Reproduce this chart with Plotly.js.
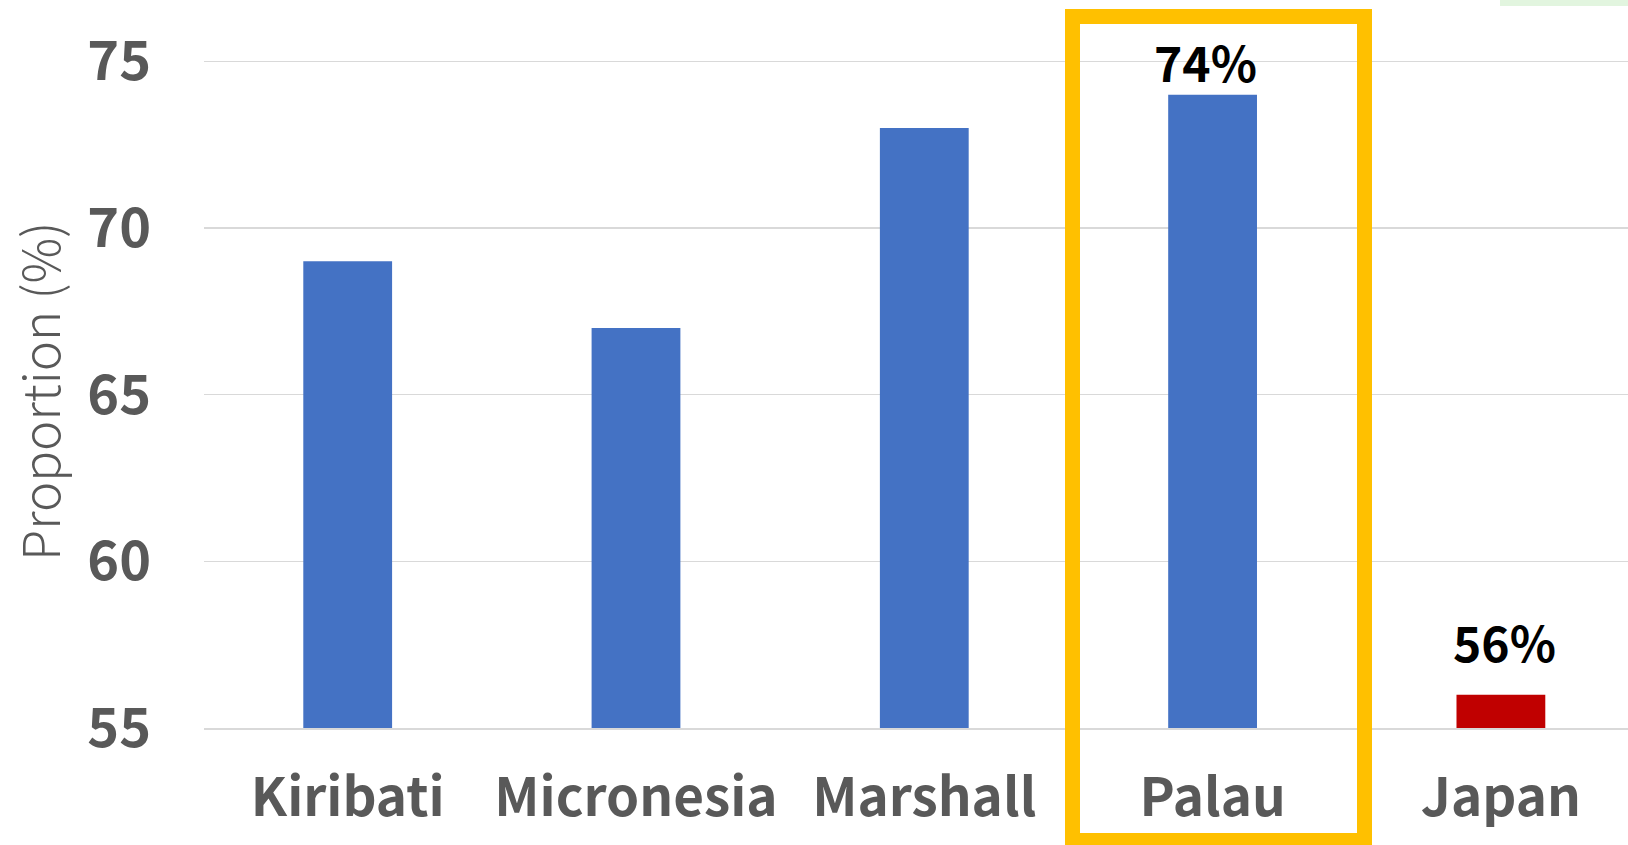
<!DOCTYPE html>
<html>
<head>
<meta charset="utf-8">
<script src="https://cdn.plot.ly/plotly-3.0.1.min.js"></script>
<style>html,body{margin:0;padding:0;background:#fff;}#chart{width:1628px;height:845px;}</style>
</head>
<body>
<div id="chart"></div>
<script>
const categories = ["Kiribati", "Micronesia", "Marshall", "Palau", "Japan"];
const values = [69, 67, 73, 74, 56];
const barColors = ["#4472C4", "#4472C4", "#4472C4", "#4472C4", "#C00000"];
const yTicks = [55, 60, 65, 70, 75];
const labelled = [{cat: "Palau", value: 74, text: "74%"}, {cat: "Japan", value: 56, text: "56%"}];
const yTitle = "Proportion (%)";

const W = 1628, H = 845;
const mL = 204, mR = 0, mT = 0, mB = 117;
const plotW = W - mL - mR, plotH = H - mT - mB;
const pxPerCat = 288.3;
const xMin = -0.4984, xMax = xMin + plotW / pxPerCat;
const pxPerUnit = 33.333;
const yMin = 55, yMax = yMin + plotH / pxPerUnit;

const CJK = '"Noto Sans CJK JP", "Noto Sans", sans-serif';
const gray = '#595959';

const trace = {
  type: 'bar',
  x: categories,
  y: values.map(v => v - 55),
  base: values.map(() => 55),
  width: 0.308,
  marker: {color: barColors, line: {width: 0}},
  hoverinfo: 'skip',
  cliponaxis: false
};

function pxToPaperX(px) { return (px - mL) / plotW; }
function pxToPaperY(py) { return 1 - (py - mT) / plotH; }

const shifts = {Palau: {x: -7, y: -3}, Japan: {x: 4, y: 17}};
const annotations = labelled.map(l => ({
  x: l.cat, y: l.value, xref: 'x', yref: 'y',
  text: l.text, showarrow: false, yanchor: 'bottom', xanchor: 'center',
  xshift: shifts[l.cat].x, yshift: shifts[l.cat].y,
  font: {family: CJK, size: 48, color: '#000000', weight: 'bold'}
}));
annotations.push({
  x: pxToPaperX(38), y: pxToPaperY(392), xref: 'paper', yref: 'paper',
  text: yTitle, showarrow: false, textangle: -90, xanchor: 'center', yanchor: 'middle',
  borderpad: 0,
  font: {family: CJK, size: 51, color: gray, weight: 300}
});

const shapes = [
  {type: 'rect', xref: 'paper', yref: 'paper',
   x0: pxToPaperX(1072.5), x1: pxToPaperX(1364.5),
   y0: pxToPaperY(840.5), y1: pxToPaperY(16.5),
   line: {color: '#FFC000', width: 15}, fillcolor: 'rgba(0,0,0,0)', layer: 'above'},
  {type: 'rect', xref: 'paper', yref: 'paper',
   x0: pxToPaperX(1500), x1: pxToPaperX(1628),
   y0: pxToPaperY(6), y1: pxToPaperY(0),
   line: {width: 0}, fillcolor: '#E2F5DF', layer: 'above'}
];

const layout = {
  width: W, height: H,
  margin: {l: mL, r: mR, t: mT, b: mB, pad: 0},
  paper_bgcolor: '#ffffff', plot_bgcolor: '#ffffff',
  showlegend: false,
  bargap: 0.69,
  xaxis: {
    type: 'category', range: [xMin, xMax], fixedrange: true,
    showgrid: false, zeroline: false,
    showline: true, linecolor: '#D9D9D9', linewidth: 1.5,
    ticks: '', ticklabelstandoff: 23,
    tickfont: {family: CJK, size: 53, color: gray, weight: 'bold'}
  },
  yaxis: {
    range: [yMin, yMax], fixedrange: true,
    tickvals: yTicks, ticktext: yTicks.map(String),
    showgrid: true, gridcolor: '#D9D9D9', gridwidth: 1.5,
    zeroline: false, showline: false, ticks: '',
    ticklabelstandoff: 52,
    tickfont: {family: CJK, size: 54, color: gray, weight: 'bold'}
  },
  annotations: annotations,
  shapes: shapes
};

Plotly.newPlot('chart', [trace], layout, {displayModeBar: false, staticPlot: true});
</script>
</body>
</html>
